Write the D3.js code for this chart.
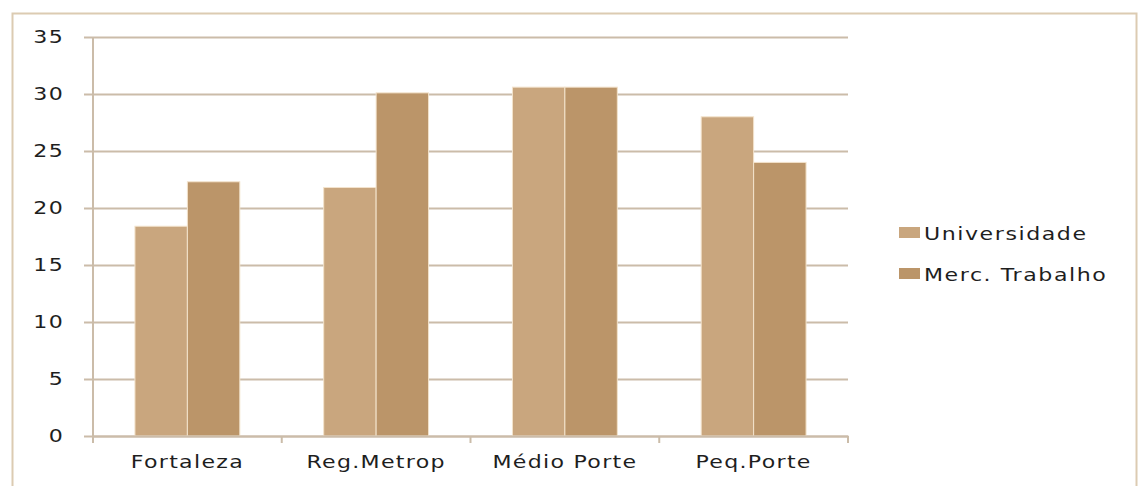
<!DOCTYPE html>
<html>
<head>
<meta charset="utf-8">
<script src="https://cdn.jsdelivr.net/npm/d3@7"></script>
<style>
  html, body { margin: 0; padding: 0; background: #ffffff; }
  svg { display: block; }
  text { font-family: "DejaVu Sans", Verdana, sans-serif; fill: #1e1e1e; }
</style>
</head>
<body>
<svg id="chart" width="1142" height="486"></svg>
<script>
// Categories and the two series
const categories = ["Fortaleza", "Reg.Metrop", "Médio Porte", "Peq.Porte"];
const seriesNames = ["Universidade", "Merc. Trabalho"];
const universidade = [18.4, 21.8, 30.6, 28.0];
const mercTrabalho = [22.3, 30.1, 30.6, 24.0];
const yTicks = [0, 5, 10, 15, 20, 25, 30, 35];
const colors = ["#c9a67e", "#bb9569"];

// text is drawn slightly widened horizontally
const stretch = 1.3;

const svg = d3.select("#chart");

// outer chart frame
svg.append("rect")
  .attr("x", 12.5).attr("y", 13.5)
  .attr("width", 1124).attr("height", 490)
  .attr("fill", "#ffffff")
  .attr("stroke", "#dccbb2").attr("stroke-width", 2);

const plot = { left: 93, right: 848, top: 37, bottom: 436 };

const x = d3.scaleBand()
  .domain(categories)
  .range([plot.left, plot.right])
  .paddingInner(0).paddingOuter(0);

const y = d3.scaleLinear()
  .domain([0, 35])
  .range([plot.bottom, plot.top]);

const inner = d3.scaleBand()
  .domain(seriesNames)
  .range([0, x.bandwidth()])
  .paddingInner(0)
  .paddingOuter(0.8);

// horizontal gridlines with tick stubs
const yAxis = d3.axisLeft(y)
  .tickValues(yTicks)
  .tickSize(-(plot.right - plot.left) - 9)
  .tickPadding(22)
  .tickFormat(d3.format("d"));

const gy = svg.append("g")
  .attr("transform", `translate(${plot.left - 9},0)`)
  .call(yAxis);
gy.select(".domain").remove();
gy.selectAll(".tick line")
  .attr("stroke", "#cbbca9").attr("stroke-width", 2);
gy.selectAll(".tick text")
  .attr("x", -20 / stretch)
  .attr("transform", `scale(${stretch},1)`)
  .attr("font-size", 17)
  .attr("letter-spacing", "1px")
  .style("fill", "#1e1e1e");

// vertical axis line
svg.append("line")
  .attr("x1", plot.left).attr("x2", plot.left)
  .attr("y1", plot.top).attr("y2", plot.bottom + 6)
  .attr("stroke", "#cbbca9").attr("stroke-width", 2);

// bars
const data = categories.map((c, i) => ({
  cat: c,
  vals: [universidade[i], mercTrabalho[i]]
}));

const groups = svg.append("g").selectAll("g")
  .data(data).join("g")
  .attr("transform", d => `translate(${x(d.cat)},0)`);

groups.selectAll("rect")
  .data(d => d.vals.map((v, j) => ({ name: seriesNames[j], v, j })))
  .join("rect")
  .attr("x", d => inner(d.name))
  .attr("width", inner.bandwidth())
  .attr("y", d => y(d.v))
  .attr("height", d => y(0) - y(d.v))
  .attr("fill", d => colors[d.j])
  .attr("stroke", "#f3e3cc").attr("stroke-width", 1);

// category axis
const xAxis = d3.axisBottom(x).tickSize(0).tickPadding(20);
const gx = svg.append("g")
  .attr("transform", `translate(0,${plot.bottom})`)
  .call(xAxis);
gx.select(".domain").attr("stroke", "#cbbca9").attr("stroke-width", 2);
gx.selectAll(".tick text")
  .attr("transform", `scale(${stretch},1)`)
  .attr("font-size", 17)
  .attr("letter-spacing", "1px")
  .style("fill", "#1e1e1e");

// tick marks at category boundaries
const bounds = categories.map(c => x(c)).concat([x.range()[1]]);
svg.append("g").selectAll("line")
  .data(bounds).join("line")
  .attr("x1", d => d).attr("x2", d => d)
  .attr("y1", plot.bottom).attr("y2", plot.bottom + 7)
  .attr("stroke", "#cbbca9").attr("stroke-width", 2);

// legend
const legend = svg.append("g").attr("transform", "translate(899,225)");
const items = legend.selectAll("g")
  .data(seriesNames).join("g")
  .attr("transform", (d, i) => `translate(0,${i * 41})`);
items.append("rect")
  .attr("x", 0).attr("y", 2)
  .attr("width", 21).attr("height", 11)
  .attr("fill", (d, i) => colors[i]);
items.append("text")
  .attr("transform", `translate(25,15) scale(${stretch},1)`)
  .attr("font-size", 17)
  .attr("letter-spacing", "1.2px")
  .text(d => d);
</script>
</body>
</html>
